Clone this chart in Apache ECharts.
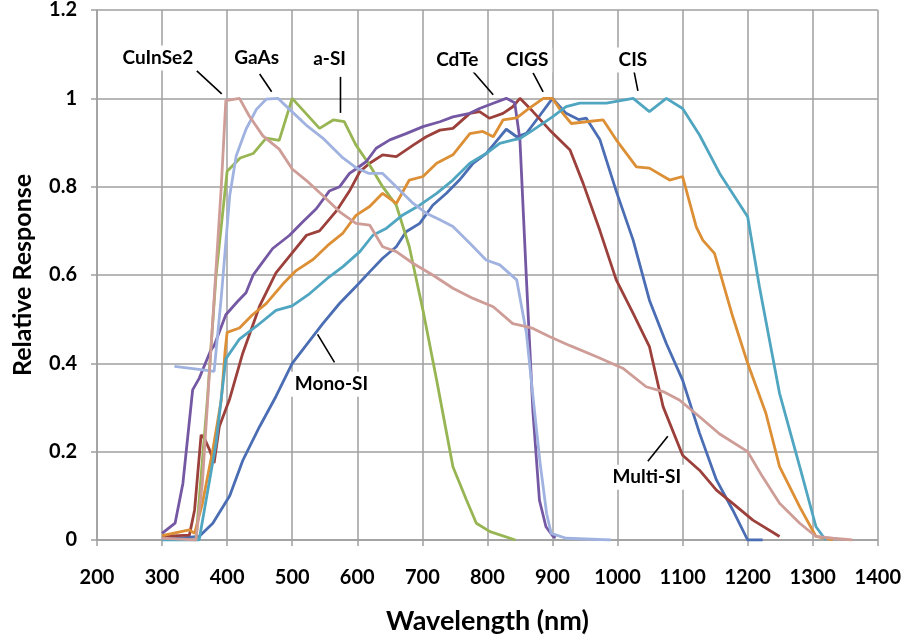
<!DOCTYPE html>
<html>
<head>
<meta charset="utf-8">
<script src="https://cdn.jsdelivr.net/npm/echarts@6/dist/echarts.min.js"></script>
<style>
html,body{margin:0;padding:0;background:#fff;}
#chart{width:904px;height:640px;}
</style>
</head>
<body>
<div id="chart"></div>
<script>
// ---- data: [wavelength nm, relative response] ----
const monoSI = [[300,0.004],[330,0.005],[357,0.008],[378,0.038],[404,0.1],[424,0.18],[450,0.257],[475,0.325],[500,0.40],[521,0.44],[547,0.49],[573,0.536],[598,0.574],[619,0.607],[639,0.638],[660,0.664],[675,0.698],[696,0.717],[716,0.758],[737,0.785],[757,0.815],[778,0.853],[798,0.875],[819,0.912],[829,0.93],[845,0.913],[860,0.921],[880,0.96],[900,1.0],[921,0.966],[940,0.952],[952,0.955],[973,0.906],[998,0.79],[1024,0.679],[1049,0.543],[1075,0.445],[1100,0.362],[1126,0.242],[1152,0.136],[1177,0.068],[1200,0.0],[1223,0.0]];
const multiSI = [[300,0.008],[342,0.011],[350,0.068],[360,0.238],[365,0.23],[373,0.204],[380,0.174],[388,0.257],[404,0.32],[424,0.423],[450,0.53],[475,0.605],[500,0.65],[522,0.69],[542,0.70],[568,0.745],[588,0.79],[604,0.834],[619,0.853],[639,0.872],[660,0.868],[686,0.894],[706,0.913],[727,0.928],[747,0.932],[773,0.966],[788,0.97],[803,0.955],[824,0.966],[839,0.981],[850,1.0],[870,0.97],[896,0.928],[927,0.883],[947,0.808],[973,0.70],[998,0.589],[1024,0.513],[1049,0.438],[1070,0.302],[1100,0.192],[1126,0.158],[1152,0.113],[1177,0.083],[1208,0.045],[1249,0.008]];
const aSI = [[352,0.0],[370,0.325],[383,0.60],[400,0.835],[420,0.865],[440,0.875],[460,0.91],[480,0.905],[500,1.0],[521,0.966],[542,0.932],[563,0.951],[580,0.947],[598,0.894],[619,0.849],[639,0.80],[660,0.758],[680,0.664],[701,0.52],[722,0.362],[747,0.166],[768,0.09],[783,0.038],[804,0.019],[843,0.0]];
const cdTe = [[300,0.015],[320,0.038],[332,0.128],[347,0.34],[357,0.366],[375,0.43],[380,0.44],[398,0.51],[416,0.54],[429,0.56],[440,0.60],[450,0.62],[470,0.66],[496,0.69],[516,0.72],[537,0.75],[557,0.79],[573,0.80],[588,0.83],[598,0.84],[614,0.857],[629,0.887],[650,0.906],[675,0.92],[701,0.936],[727,0.947],[747,0.958],[773,0.966],[788,0.977],[809,0.989],[829,1.0],[842,0.99],[850,0.906],[860,0.59],[870,0.29],[880,0.09],[890,0.03],[901,0.008],[905,0.005]];
const cigs = [[300,0.01],[342,0.023],[350,0.015],[362,0.083],[378,0.204],[391,0.317],[397,0.43],[400,0.47],[419,0.48],[439,0.51],[460,0.535],[486,0.58],[506,0.61],[532,0.635],[557,0.67],[578,0.695],[598,0.735],[619,0.755],[639,0.785],[660,0.762],[680,0.815],[701,0.823],[722,0.853],[747,0.872],[773,0.92],[793,0.925],[809,0.913],[824,0.951],[845,0.956],[862,0.975],[886,1.0],[900,1.0],[916,0.966],[929,0.943],[952,0.947],[978,0.951],[998,0.906],[1029,0.845],[1049,0.842],[1080,0.815],[1100,0.823],[1121,0.709],[1131,0.679],[1149,0.649],[1177,0.506],[1200,0.40],[1228,0.287],[1249,0.166],[1280,0.075],[1305,0.008],[1331,0.0]];
const cis = [[300,0.0],[357,0.0],[365,0.068],[383,0.219],[398,0.41],[419,0.455],[445,0.484],[475,0.52],[500,0.53],[527,0.558],[557,0.596],[578,0.619],[604,0.653],[624,0.69],[645,0.706],[670,0.736],[696,0.758],[722,0.785],[747,0.815],[773,0.853],[798,0.875],[819,0.898],[840,0.906],[850,0.909],[870,0.928],[900,0.958],[921,0.981],[942,0.989],[983,0.989],[1024,1.0],[1049,0.97],[1075,1.0],[1100,0.977],[1126,0.917],[1157,0.83],[1200,0.732],[1218,0.574],[1249,0.332],[1280,0.166],[1305,0.03],[1320,0.0]];
const gaAs = [[319,0.393],[363,0.385],[380,0.382],[391,0.55],[404,0.78],[414,0.87],[429,0.93],[445,0.975],[460,0.998],[478,1.0],[496,0.975],[521,0.94],[547,0.91],[578,0.865],[598,0.843],[618,0.83],[639,0.83],[660,0.80],[686,0.762],[706,0.74],[727,0.725],[747,0.71],[773,0.672],[798,0.634],[819,0.623],[845,0.589],[860,0.468],[870,0.325],[881,0.174],[891,0.06],[898,0.015],[921,0.004],[990,0.0]];
const cuInSe2 = [[300,0.004],[330,0.002],[352,0.0],[362,0.13],[375,0.43],[391,0.8],[398,0.995],[419,1.0],[434,0.96],[455,0.915],[480,0.885],[500,0.84],[521,0.815],[547,0.78],[573,0.743],[598,0.717],[619,0.713],[639,0.664],[660,0.653],[686,0.626],[716,0.60],[747,0.57],[778,0.547],[809,0.528],[839,0.49],[860,0.483],[870,0.479],[896,0.46],[927,0.44],[968,0.415],[1008,0.389],[1044,0.347],[1070,0.336],[1095,0.317],[1126,0.279],[1157,0.24],[1200,0.2],[1223,0.143],[1249,0.083],[1280,0.038],[1305,0.008],[1331,0.004],[1361,0.0]];

const seriesNames = ['Mono-SI','Multi-SI','a-SI','CdTe','CIGS','CIS','GaAs','CuInSe2'];
const seriesData = [monoSI, multiSI, aSI, cdTe, cigs, cis, gaAs, cuInSe2];
const seriesColors = ['#4A6DB3','#9C403C','#98B553','#7558A3','#DC8F35','#50A6C1','#A0B2DF','#CF9D97'];

// annotation labels: [text, textX, textY, lineX1, lineY1, lineX2, lineY2] in data coordinates
const annotations = [
  ['CuInSe2', 293.6, 1.0915, 353.4, 1.062, 391.7, 1.010],
  ['GaAs', 445.4, 1.0915, 450, 1.055, 468.4, 1.015],
  ['a-SI', 557.4, 1.089, 574.2, 1.0486, 574.2, 0.967],
  ['CdTe', 753.7, 1.087, 778.2, 1.06, 808.9, 1.008],
  ['CIGS', 861, 1.087, 870.2, 1.0576, 885.6, 1.0147],
  ['CIS', 1023.6, 1.087, 1025.2, 1.062, 1031.3, 1.017],
  ['Mono-SI', 560.4, 0.3525, 539, 0.4655, 565, 0.402],
  ['Multi-SI', 1045, 0.142, 1046.6, 0.1785, 1077.3, 0.235]
];

const chart = echarts.init(document.getElementById('chart'), null, {renderer:'canvas'});
const FONT = 'Lato, "Open Sans", sans-serif';
const gridColor = '#9f9f9f';

chart.setOption({
  animation: false,
  backgroundColor: '#ffffff',
  grid: {left: 97, right: 25, top: 10, bottom: 99},
  xAxis: {
    type: 'value', min: 200, max: 1400, interval: 100,
    name: 'Wavelength (nm)', nameLocation: 'middle', nameGap: 68,
    nameTextStyle: {fontFamily: FONT, fontWeight: 'bold', fontSize: 27, color: '#000'},
    axisLine: {show: true, lineStyle: {color: gridColor, width: 1.5}},
    axisTick: {show: true, inside: false, length: 6, lineStyle: {color: gridColor, width: 1.5}},
    axisLabel: {margin: 28, fontFamily: FONT, fontWeight: 'bold', fontSize: 20, color: '#000',
      formatter: v => String(v)},
    splitLine: {show: true, lineStyle: {color: gridColor, width: 1.5}}
  },
  yAxis: {
    type: 'value', min: 0, max: 1.2, interval: 0.2,
    name: 'Relative Response', nameLocation: 'middle', nameGap: 62, nameRotate: 90,
    nameTextStyle: {fontFamily: FONT, fontWeight: 'bold', fontSize: 25, color: '#000'},
    axisLine: {show: true, lineStyle: {color: gridColor, width: 1.5}},
    axisTick: {show: true, inside: false, length: 6, lineStyle: {color: gridColor, width: 1.5}},
    axisLabel: {margin: 20, fontFamily: FONT, fontWeight: 'bold', fontSize: 20, color: '#000',
      formatter: v => String(Math.round(v * 10) / 10)},
    splitLine: {show: true, lineStyle: {color: gridColor, width: 1.5}}
  },
  series: seriesNames.map((n, i) => ({
    name: n, type: 'line', data: seriesData[i], showSymbol: false, symbol: 'none',
    lineStyle: {color: seriesColors[i], width: 2.8}, itemStyle: {color: seriesColors[i]},
    z: 3
  }))
});

function drawAnnotations(){
  const els = [];
  annotations.forEach(a => {
    const t = chart.convertToPixel({gridIndex: 0}, [a[1], a[2]]);
    const p1 = chart.convertToPixel({gridIndex: 0}, [a[3], a[4]]);
    const p2 = chart.convertToPixel({gridIndex: 0}, [a[5], a[6]]);
    els.push({
      type: 'line', z: 100,
      shape: {x1: p1[0], y1: p1[1], x2: p2[0], y2: p2[1]},
      style: {stroke: '#000', lineWidth: 1.6}
    });
    els.push({
      type: 'text', z: 101, x: t[0], y: t[1],
      style: {text: a[0], align: 'center', verticalAlign: 'middle',
        font: 'bold 19px ' + FONT, fill: '#000',
        backgroundColor: '#fff', padding: [3, 4]}
    });
  });
  chart.setOption({graphic: els});
}
drawAnnotations();
</script>
</body>
</html>
